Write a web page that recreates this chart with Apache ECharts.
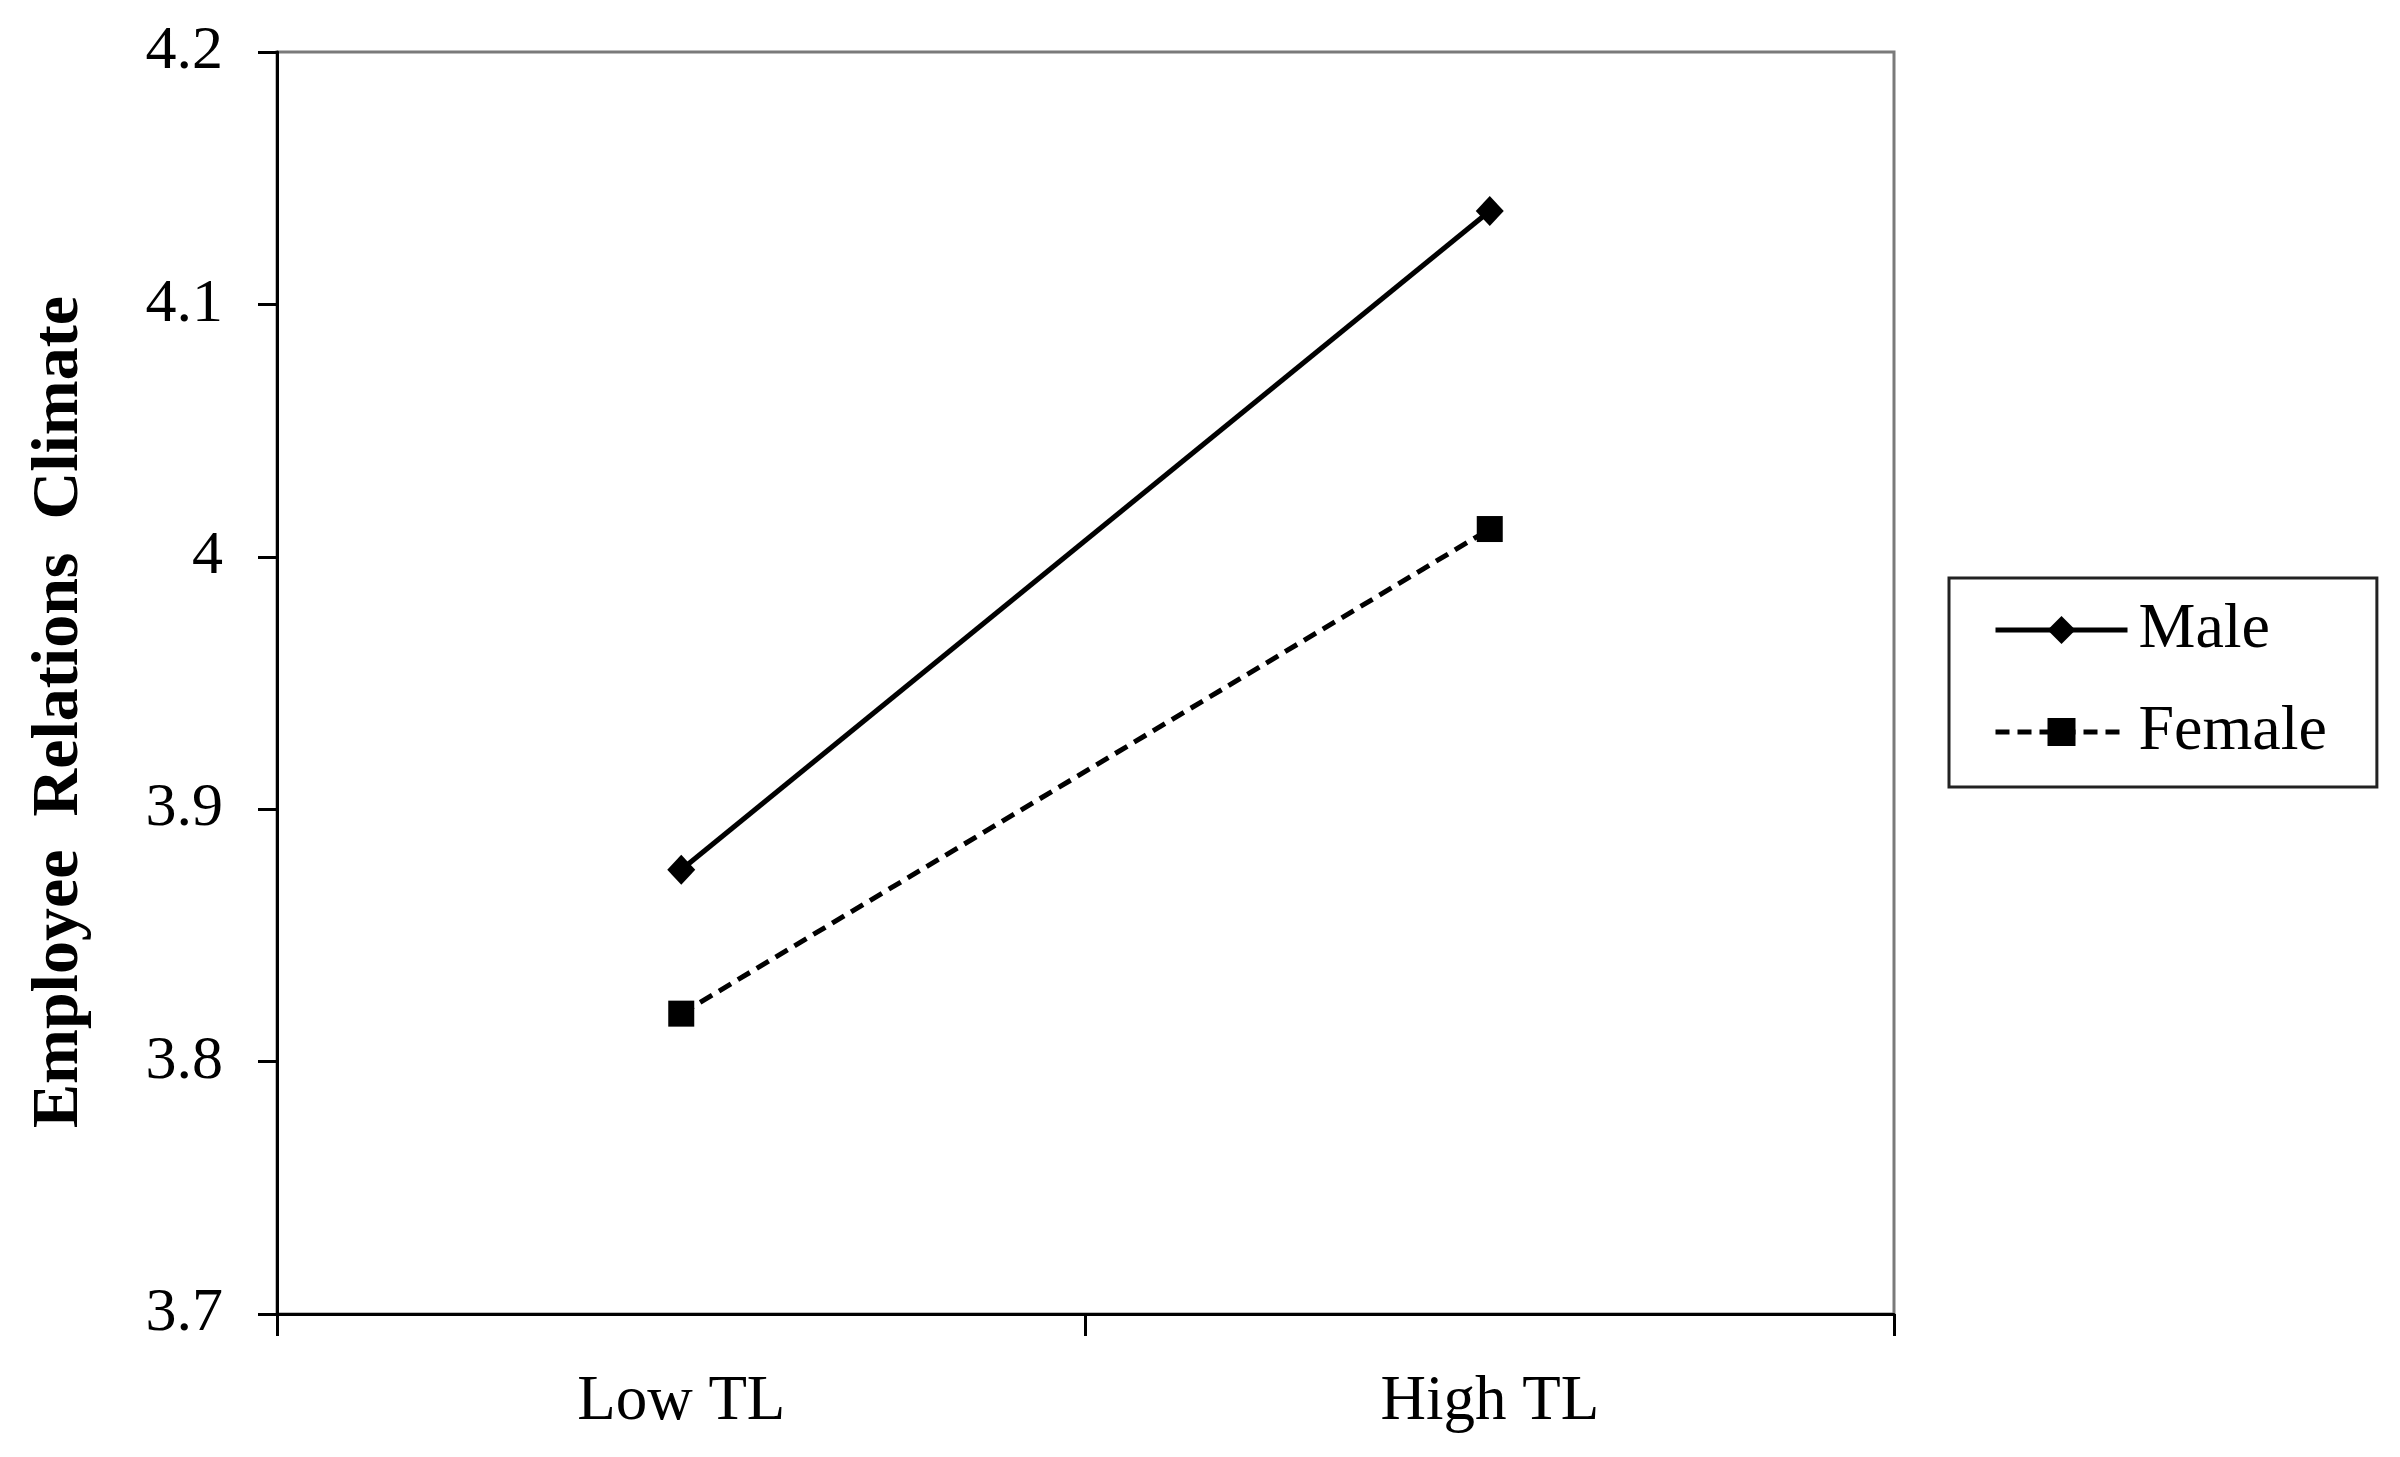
<!DOCTYPE html>
<html>
<head>
<meta charset="utf-8">
<script src="https://cdn.jsdelivr.net/npm/echarts@6/dist/echarts.min.js"></script>
<style>
  html, body { margin: 0; padding: 0; background: #fff; }
  #chart { width: 2400px; height: 1457px; }
</style>
</head>
<body>
<div id="chart"></div>
<script>
const categories = ['Low TL', 'High TL'];
const maleValues = [3.876, 4.137];
const femaleValues = [3.819, 4.011];
const seriesNames = ['Male', 'Female'];
const yAxisTitle = 'Employee  Relations  Climate';

const FONT = '"Liberation Serif", "Times New Roman", serif';

const chart = echarts.init(document.getElementById('chart'), null, { renderer: 'canvas' });
chart.setOption({
  backgroundColor: '#ffffff',
  animation: false,
  grid: {
    left: 277, right: 506, top: 52, bottom: 143,
    show: true, borderColor: '#7a7a7a', borderWidth: 3, backgroundColor: 'transparent'
  },
  legend: {
    orient: 'vertical',
    left: 1949, top: 578,
    padding: [17, 50, 20, 44],
    itemGap: 32,
    itemWidth: 132,
    itemHeight: 35,
    borderColor: '#222',
    borderWidth: 3,
    backgroundColor: '#fff',
    data: seriesNames,
    lineStyle: { width: 5 },
    textStyle: { fontFamily: FONT, fontSize: 64, color: '#000', lineHeight: 70, padding: [0, 0, 0, 6] }
  },
  xAxis: {
    type: 'category',
    data: categories,
    boundaryGap: true,
    axisLine: { show: true, lineStyle: { color: '#000', width: 3 } },
    axisTick: { show: true, length: 22, lineStyle: { color: '#000', width: 3 } },
    axisLabel: { margin: 57, fontFamily: FONT, fontSize: 63, color: '#000' },
    splitLine: { show: false }
  },
  yAxis: {
    type: 'value',
    min: 3.7, max: 4.2, interval: 0.1,
    axisLine: { show: true, lineStyle: { color: '#000', width: 3 } },
    axisTick: { show: true, length: 19, lineStyle: { color: '#000', width: 3 } },
    axisLabel: {
      margin: 54, fontFamily: FONT, fontSize: 62, color: '#000',
      formatter: function (v) { return String(Math.round(v * 10) / 10); }
    },
    splitLine: { show: false },
    name: yAxisTitle,
    nameLocation: 'middle',
    nameGap: 184,
    nameRotate: 90,
    nameTextStyle: { fontFamily: FONT, fontSize: 66, fontWeight: 'bold', color: '#000', padding: [0, 58, 0, 0] }
  },
  series: [
    {
      name: seriesNames[0],
      type: 'line',
      data: maleValues,
      symbol: 'diamond',
      symbolSize: [28, 30],
      lineStyle: { color: '#000', width: 5, type: 'solid' },
      itemStyle: { color: '#000' }
    },
    {
      name: seriesNames[1],
      type: 'line',
      data: femaleValues,
      symbol: 'rect',
      symbolSize: 26,
      lineStyle: { color: '#000', width: 5, type: [14, 8] },
      itemStyle: { color: '#000' }
    }
  ]
});
</script>
</body>
</html>
